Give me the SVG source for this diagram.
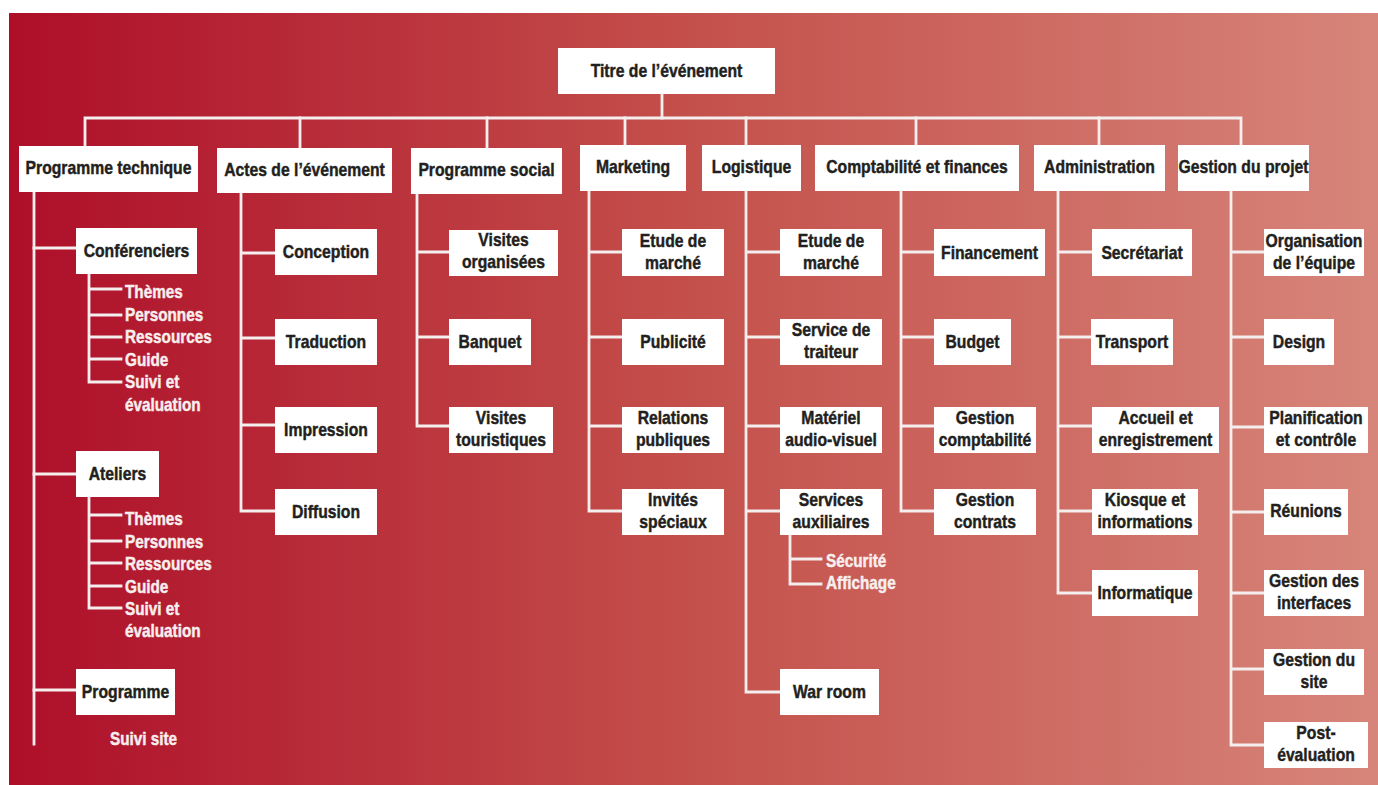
<svg xmlns="http://www.w3.org/2000/svg" width="1378" height="785" viewBox="0 0 1378 785">
<defs>
<linearGradient id="bg" x1="0" y1="0" x2="1" y2="0">
<stop offset="0" stop-color="#AE0E29"/>
<stop offset="0.5" stop-color="#C4504B"/>
<stop offset="1" stop-color="#D7857A"/>
</linearGradient>
<style>
.box{fill:#ffffff}
.t{font-family:"Liberation Sans",Arial,sans-serif;font-weight:bold;font-size:18.5px;fill:#231f20;stroke:#231f20;stroke-width:0.45;text-anchor:middle}
.w{font-family:"Liberation Sans",Arial,sans-serif;font-weight:bold;font-size:18px;fill:#f7eeee;stroke:#f7eeee;stroke-width:0.45}
.c{fill:none;stroke:#f5eeee;stroke-width:2.8;stroke-linecap:square;stroke-linejoin:miter}
</style>
</defs>
<rect x="9" y="13" width="1369" height="772" fill="url(#bg)"/>

<g id="connectors" class="c">
<path d="M662,94 V118"/>
<path d="M85,146 V118 H1241 V145"/>
<path d="M300,118 V148 M487,118 V148 M625,118 V145 M746,118 V145 M916,118 V145 M1099,118 V145"/>
<path d="M34,192 V744"/>
<path d="M34,248 H76 M34,474 H76 M34,690 H76"/>
<path d="M89,274 V382 H121 M89,289 H121 M89,315 H121 M89,337 H121 M89,359 H121"/>
<path d="M89,497 V608 H121 M89,515 H121 M89,541 H121 M89,563 H121 M89,586 H121"/>
<path d="M241,193 V511 H275 M241,253 H275 M241,338 H275 M241,425 H275"/>
<path d="M417,194 V426 H449 M417,252 H449 M417,337 H449"/>
<path d="M589,191 V511 H622 M589,252 H622 M589,337 H622 M589,426 H622"/>
<path d="M746,191 V692 H780 M746,252 H780 M746,337 H780 M746,426 H780 M746,511 H780"/>
<path d="M790,535 V584 H821 M790,559 H821"/>
<path d="M901,191 V511 H934 M901,252 H934 M901,337 H934 M901,426 H934"/>
<path d="M1058,191 V593 H1092 M1058,252 H1092 M1058,337 H1091 M1058,426 H1092 M1058,511 H1092"/>
<path d="M1231,191 V745 H1264 M1231,252 H1264 M1231,337 H1264 M1231,427 H1264 M1231,512 H1264 M1231,593 H1264 M1231,669 H1264"/>
</g>

<g id="n-titre"><rect class="box" x="558" y="48" width="217" height="46"/><text class="t" transform="translate(666.5,77) scale(.85,1)">Titre de l’événement</text></g>

<g id="n-pt"><rect class="box" x="19" y="146" width="179" height="46"/><text class="t" transform="translate(108.5,174) scale(.85,1)">Programme technique</text></g>
<g id="n-ae"><rect class="box" x="217" y="148" width="175" height="45"/><text class="t" transform="translate(304.5,176) scale(.85,1)">Actes de l’événement</text></g>
<g id="n-ps"><rect class="box" x="411" y="148" width="151" height="46"/><text class="t" transform="translate(486.5,176) scale(.85,1)">Programme social</text></g>
<g id="n-mk"><rect class="box" x="580" y="145" width="106" height="46"/><text class="t" transform="translate(633,173) scale(.85,1)">Marketing</text></g>
<g id="n-lg"><rect class="box" x="702" y="145" width="99" height="46"/><text class="t" transform="translate(751.5,173) scale(.85,1)">Logistique</text></g>
<g id="n-cf"><rect class="box" x="815" y="145" width="204" height="46"/><text class="t" transform="translate(917,173) scale(.85,1)">Comptabilité et finances</text></g>
<g id="n-ad"><rect class="box" x="1034" y="145" width="131" height="46"/><text class="t" transform="translate(1099.5,173) scale(.85,1)">Administration</text></g>
<g id="n-gp"><rect class="box" x="1178" y="145" width="131" height="46"/><text class="t" transform="translate(1243.5,173) scale(.85,1)">Gestion du projet</text></g>

<g id="n-conf"><rect class="box" x="76" y="228" width="121" height="46"/><text class="t" transform="translate(136.5,257) scale(.85,1)">Conférenciers</text></g>
<g id="n-conf-sub">
<text class="w" transform="translate(125,298) scale(.85,1)">Thèmes</text>
<text class="w" transform="translate(125,321) scale(.85,1)">Personnes</text>
<text class="w" transform="translate(125,343) scale(.85,1)">Ressources</text>
<text class="w" transform="translate(125,366) scale(.85,1)">Guide</text>
<text class="w" transform="translate(125,388) scale(.85,1)">Suivi et</text>
<text class="w" transform="translate(125,411) scale(.85,1)">évaluation</text>
</g>
<g id="n-ate"><rect class="box" x="76" y="451" width="83" height="46"/><text class="t" transform="translate(117.5,480) scale(.85,1)">Ateliers</text></g>
<g id="n-ate-sub">
<text class="w" transform="translate(125,525) scale(.85,1)">Thèmes</text>
<text class="w" transform="translate(125,548) scale(.85,1)">Personnes</text>
<text class="w" transform="translate(125,570) scale(.85,1)">Ressources</text>
<text class="w" transform="translate(125,593) scale(.85,1)">Guide</text>
<text class="w" transform="translate(125,615) scale(.85,1)">Suivi et</text>
<text class="w" transform="translate(125,637) scale(.85,1)">évaluation</text>
</g>
<g id="n-prog"><rect class="box" x="76" y="669" width="99" height="46"/><text class="t" transform="translate(125.5,698) scale(.85,1)">Programme</text></g>
<g id="n-suivi"><text class="w" transform="translate(110,745) scale(.85,1)">Suivi site</text></g>

<g id="n-concep"><rect class="box" x="275" y="229" width="102" height="46"/><text class="t" transform="translate(326,258) scale(.85,1)">Conception</text></g>
<g id="n-trad"><rect class="box" x="275" y="319" width="102" height="46"/><text class="t" transform="translate(326,348) scale(.85,1)">Traduction</text></g>
<g id="n-impr"><rect class="box" x="275" y="407" width="102" height="46"/><text class="t" transform="translate(326,436) scale(.85,1)">Impression</text></g>
<g id="n-diff"><rect class="box" x="275" y="489" width="102" height="46"/><text class="t" transform="translate(326,518) scale(.85,1)">Diffusion</text></g>

<g id="n-vo"><rect class="box" x="449" y="230" width="109" height="46"/><text class="t" transform="translate(503.5,246) scale(.85,1)">Visites</text><text class="t" transform="translate(503.5,268) scale(.85,1)">organisées</text></g>
<g id="n-banq"><rect class="box" x="449" y="319" width="82" height="46"/><text class="t" transform="translate(490,348) scale(.85,1)">Banquet</text></g>
<g id="n-vt"><rect class="box" x="449" y="407" width="104" height="46"/><text class="t" transform="translate(501,424) scale(.85,1)">Visites</text><text class="t" transform="translate(501,446) scale(.85,1)">touristiques</text></g>

<g id="n-mk-em"><rect class="box" x="622" y="229" width="102" height="47"/><text class="t" transform="translate(673,247) scale(.85,1)">Etude de</text><text class="t" transform="translate(673,269) scale(.85,1)">marché</text></g>
<g id="n-pub"><rect class="box" x="622" y="319" width="102" height="46"/><text class="t" transform="translate(673,348) scale(.85,1)">Publicité</text></g>
<g id="n-rp"><rect class="box" x="622" y="407" width="102" height="46"/><text class="t" transform="translate(673,424) scale(.85,1)">Relations</text><text class="t" transform="translate(673,446) scale(.85,1)">publiques</text></g>
<g id="n-inv"><rect class="box" x="622" y="489" width="102" height="46"/><text class="t" transform="translate(673,506) scale(.85,1)">Invités</text><text class="t" transform="translate(673,528) scale(.85,1)">spéciaux</text></g>

<g id="n-lg-em"><rect class="box" x="780" y="229" width="102" height="47"/><text class="t" transform="translate(831,247) scale(.85,1)">Etude de</text><text class="t" transform="translate(831,269) scale(.85,1)">marché</text></g>
<g id="n-st"><rect class="box" x="780" y="319" width="102" height="46"/><text class="t" transform="translate(831,336) scale(.85,1)">Service de</text><text class="t" transform="translate(831,358) scale(.85,1)">traiteur</text></g>
<g id="n-mav"><rect class="box" x="780" y="407" width="102" height="46"/><text class="t" transform="translate(831,424) scale(.85,1)">Matériel</text><text class="t" transform="translate(831,446) scale(.85,1)">audio-visuel</text></g>
<g id="n-sa"><rect class="box" x="780" y="489" width="102" height="46"/><text class="t" transform="translate(831,506) scale(.85,1)">Services</text><text class="t" transform="translate(831,528) scale(.85,1)">auxiliaires</text></g>
<g id="n-sa-sub">
<text class="w" transform="translate(826,567) scale(.85,1)">Sécurité</text>
<text class="w" transform="translate(826,589) scale(.85,1)">Affichage</text>
</g>
<g id="n-war"><rect class="box" x="780" y="669" width="99" height="46"/><text class="t" transform="translate(829.5,698) scale(.85,1)">War room</text></g>

<g id="n-fin"><rect class="box" x="934" y="229" width="111" height="47"/><text class="t" transform="translate(989.5,259) scale(.85,1)">Financement</text></g>
<g id="n-bud"><rect class="box" x="934" y="319" width="77" height="46"/><text class="t" transform="translate(972.5,348) scale(.85,1)">Budget</text></g>
<g id="n-gc"><rect class="box" x="934" y="407" width="102" height="46"/><text class="t" transform="translate(985,424) scale(.85,1)">Gestion</text><text class="t" transform="translate(985,446) scale(.85,1)">comptabilité</text></g>
<g id="n-gct"><rect class="box" x="934" y="489" width="102" height="46"/><text class="t" transform="translate(985,506) scale(.85,1)">Gestion</text><text class="t" transform="translate(985,528) scale(.85,1)">contrats</text></g>

<g id="n-sec"><rect class="box" x="1092" y="229" width="100" height="47"/><text class="t" transform="translate(1142,259) scale(.85,1)">Secrétariat</text></g>
<g id="n-tr"><rect class="box" x="1091" y="319" width="82" height="46"/><text class="t" transform="translate(1132,348) scale(.85,1)">Transport</text></g>
<g id="n-acc"><rect class="box" x="1092" y="407" width="127" height="46"/><text class="t" transform="translate(1155.5,424) scale(.85,1)">Accueil et</text><text class="t" transform="translate(1155.5,446) scale(.85,1)">enregistrement</text></g>
<g id="n-kio"><rect class="box" x="1092" y="489" width="106" height="46"/><text class="t" transform="translate(1145,506) scale(.85,1)">Kiosque et</text><text class="t" transform="translate(1145,528) scale(.85,1)">informations</text></g>
<g id="n-info"><rect class="box" x="1092" y="570" width="106" height="46"/><text class="t" transform="translate(1145,599) scale(.85,1)">Informatique</text></g>

<g id="n-org"><rect class="box" x="1264" y="229" width="100" height="47"/><text class="t" transform="translate(1314,247) scale(.85,1)">Organisation</text><text class="t" transform="translate(1314,269) scale(.85,1)">de l’équipe</text></g>
<g id="n-des"><rect class="box" x="1264" y="319" width="70" height="46"/><text class="t" transform="translate(1299,348) scale(.85,1)">Design</text></g>
<g id="n-plan"><rect class="box" x="1264" y="407" width="104" height="46"/><text class="t" transform="translate(1316,424) scale(.85,1)">Planification</text><text class="t" transform="translate(1316,446) scale(.85,1)">et contrôle</text></g>
<g id="n-reu"><rect class="box" x="1264" y="489" width="84" height="46"/><text class="t" transform="translate(1306,517) scale(.85,1)">Réunions</text></g>
<g id="n-gi"><rect class="box" x="1264" y="570" width="100" height="46"/><text class="t" transform="translate(1314,587) scale(.85,1)">Gestion des</text><text class="t" transform="translate(1314,609) scale(.85,1)">interfaces</text></g>
<g id="n-gs"><rect class="box" x="1264" y="649" width="100" height="46"/><text class="t" transform="translate(1314,666) scale(.85,1)">Gestion du</text><text class="t" transform="translate(1314,688) scale(.85,1)">site</text></g>
<g id="n-post"><rect class="box" x="1264" y="722" width="104" height="46"/><text class="t" transform="translate(1316,739) scale(.85,1)">Post-</text><text class="t" transform="translate(1316,761) scale(.85,1)">évaluation</text></g>
</svg>
